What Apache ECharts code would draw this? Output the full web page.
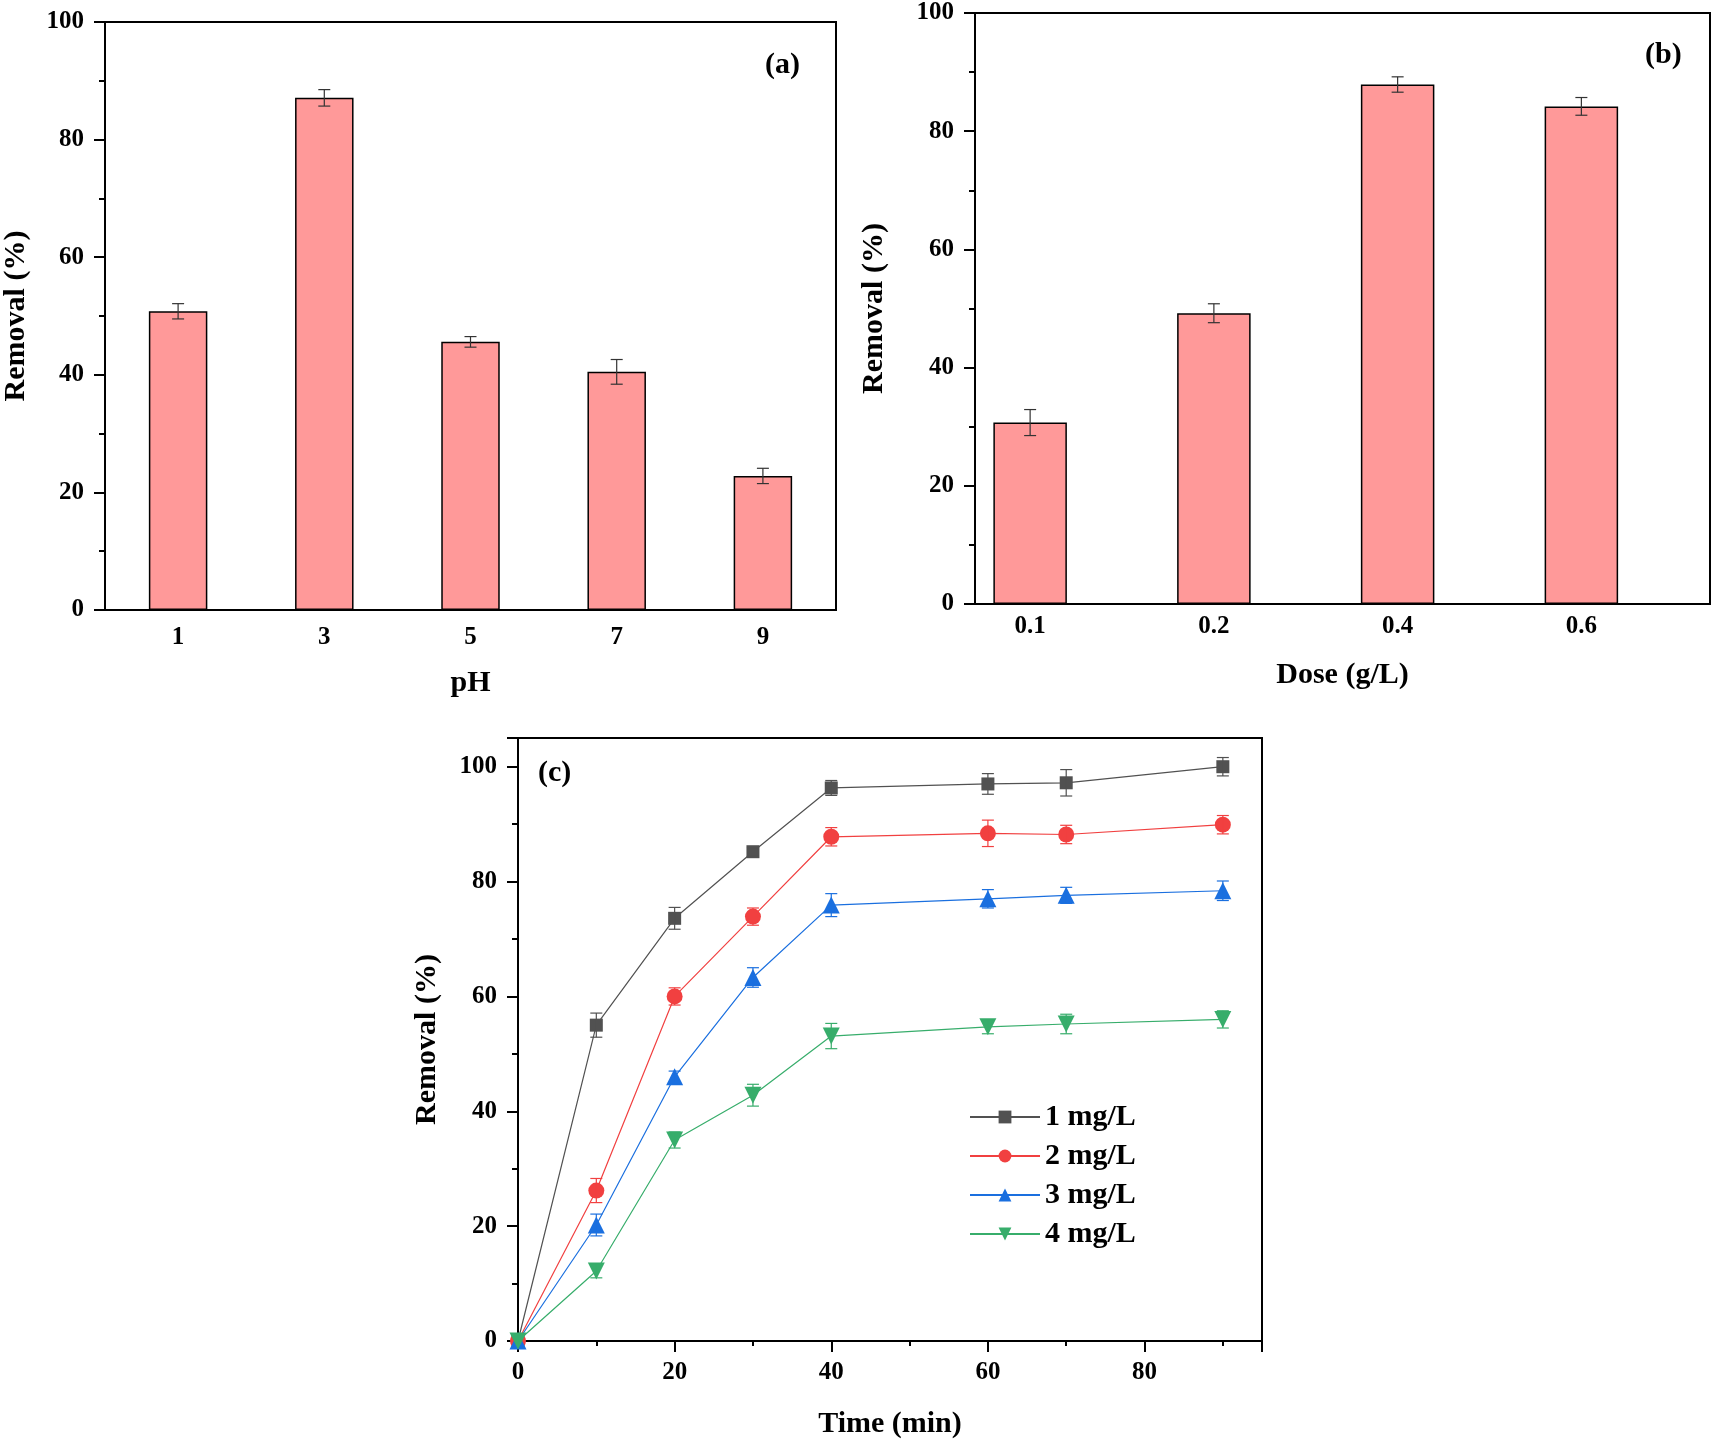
<!DOCTYPE html>
<html>
<head>
<meta charset="utf-8">
<script src="https://cdn.jsdelivr.net/npm/echarts@6/dist/echarts.min.js"></script>
<style>html,body{margin:0;padding:0;background:#fff}#c{width:1714px;height:1444px}</style>
</head>
<body>
<div id="c"></div>
<script>
// ---- data ----
const phCats = ['1', '3', '5', '7', '9'];
const phRemoval = [50.8, 87.1, 45.6, 40.5, 22.8];
const phErr = [1.3, 1.4, 0.9, 2.1, 1.3];

const doseCats = ['0.1', '0.2', '0.4', '0.6'];
const doseRemoval = [30.7, 49.2, 87.9, 84.2];
const doseErr = [2.2, 1.6, 1.3, 1.5];

const timeMin = [0, 10, 20, 30, 40, 60, 70, 90];
const seriesNames = ['1 mg/L', '2 mg/L', '3 mg/L', '4 mg/L'];
const r1 = [0, 55.0, 73.6, 85.2, 96.3, 97.0, 97.2, 100.0];
const e1 = [0, 2.1, 1.9, 0.7, 1.3, 1.8, 2.3, 1.6];
const r2 = [0, 26.2, 60.0, 73.9, 87.8, 88.4, 88.2, 89.9];
const e2 = [0, 2.1, 1.5, 1.5, 1.6, 2.3, 1.6, 1.6];
const r3 = [0, 20.2, 46.0, 63.3, 75.9, 77.0, 77.6, 78.4];
const e3 = [0, 1.9, 1.0, 1.7, 2.0, 1.6, 1.4, 1.7];
const r4 = [0, 12.2, 35.0, 42.8, 53.1, 54.7, 55.2, 56.0];
const e4 = [0, 1.2, 1.4, 1.9, 2.2, 1.2, 1.7, 1.5];

// ---- styles ----
const FONT = "'Liberation Serif','Times New Roman',serif";
const lineColors = ['#515151', '#F14040', '#1A6FDF', '#37AD6B'];
const symbols = ['rect', 'circle', 'triangle', 'triangle'];
const symRot = [0, 0, 0, 180];
const symSizes = [13, 16, 17, 17];
const barColor = '#FF9999';

function errRender(color, cap) {
  return function (params, api) {
    const x = api.value(0), y = api.value(1), e = api.value(2);
    if (!e) return null;
    const t = api.coord([x, y + e]);
    const b = api.coord([x, y - e]);
    const st = { stroke: color, lineWidth: 1.2 };
    return {
      type: 'group',
      children: [
        { type: 'line', shape: { x1: t[0], y1: t[1], x2: b[0], y2: b[1] }, style: st },
        { type: 'line', shape: { x1: t[0] - cap, y1: t[1], x2: t[0] + cap, y2: t[1] }, style: st },
        { type: 'line', shape: { x1: b[0] - cap, y1: b[1], x2: b[0] + cap, y2: b[1] }, style: st }
      ]
    };
  };
}

const tickLabel = { fontFamily: FONT, fontWeight: 'bold', fontSize: 25, color: '#000' };
const nameText = { fontFamily: FONT, fontWeight: 'bold', fontSize: 30, color: '#000' };
const axLine = { show: true, lineStyle: { color: '#000', width: 2 } };

function yAxisCfg(gridIndex, max, gap) {
  return {
    type: 'value', gridIndex: gridIndex, min: 0, max: max, interval: 20,
    name: 'Removal (%)', nameLocation: 'middle', nameGap: gap, nameTextStyle: nameText,
    axisLine: axLine,
    axisTick: { show: true, length: 11, lineStyle: { color: '#000', width: 2 } },
    minorTick: { show: true, splitNumber: 2, length: 6, lineStyle: { color: '#000', width: 2 } },
    axisLabel: Object.assign({ margin: 21, showMaxLabel: max === 100 }, tickLabel),
    splitLine: { show: false }
  };
}

const option = {
  backgroundColor: '#fff',
  animation: false,
  title: [
    { text: '(a)', left: 760, top: 45, textStyle: nameText },
    { text: '(b)', left: 1640, top: 35, textStyle: nameText },
    { text: '(c)', left: 533, top: 753, textStyle: nameText }
  ],
  grid: [
    { left: 104, top: 22, width: 732, height: 588, show: true, borderColor: '#000', borderWidth: 2, backgroundColor: 'transparent' },
    { left: 975, top: 13, width: 735, height: 591, show: true, borderColor: '#000', borderWidth: 2, backgroundColor: 'transparent' },
    { left: 518, top: 738, width: 744, height: 603, show: true, borderColor: '#000', borderWidth: 2, backgroundColor: 'transparent' }
  ],
  legend: {
    orient: 'vertical', left: 964, top: 1097, itemWidth: 70, itemHeight: 16, itemGap: 9,
    data: seriesNames,
    textStyle: nameText
  },
  xAxis: [
    {
      type: 'category', gridIndex: 0, data: phCats,
      name: 'pH', nameLocation: 'middle', nameGap: 58, nameTextStyle: nameText,
      axisLine: axLine, axisTick: { show: false },
      axisLabel: Object.assign({ margin: 15 }, tickLabel)
    },
    {
      type: 'value', gridIndex: 1, min: 0.7, max: 4.7,
      name: 'Dose (g/L)', nameLocation: 'middle', nameGap: 56, nameTextStyle: nameText,
      axisLine: axLine, axisTick: { show: false }, splitLine: { show: false },
      axisLabel: Object.assign({
        margin: 10, customValues: [1, 2, 3, 4],
        formatter: function (v) { return doseCats[Math.round(v) - 1] || ''; }
      }, tickLabel)
    },
    {
      type: 'value', gridIndex: 2, min: 0, max: 95, interval: 20,
      name: 'Time (min)', nameLocation: 'middle', nameGap: 68, nameTextStyle: nameText,
      axisLine: axLine,
      axisTick: { show: true, length: 11, lineStyle: { color: '#000', width: 2 } },
      minorTick: { show: true, splitNumber: 2, length: 5, lineStyle: { color: '#000', width: 2 } },
      axisLabel: Object.assign({ margin: 19, showMaxLabel: false }, tickLabel),
      splitLine: { show: false }
    }
  ],
  yAxis: [
    yAxisCfg(0, 100, 74),
    yAxisCfg(1, 100, 86),
    yAxisCfg(2, 105, 76)
  ],
  series: []
};

// bars (a)
option.series.push({
  type: 'bar', xAxisIndex: 0, yAxisIndex: 0, barWidth: '40%',
  data: phRemoval,
  itemStyle: { color: barColor, borderColor: '#000', borderWidth: 1.5 }
});
option.series.push({
  type: 'custom', xAxisIndex: 0, yAxisIndex: 0, z: 5,
  renderItem: errRender('#333', 6),
  data: phRemoval.map(function (v, i) { return [i, v, phErr[i]]; })
});
// bars (b)
option.series.push({
  type: 'bar', xAxisIndex: 1, yAxisIndex: 1, barWidth: '40%',
  data: doseRemoval.map(function (v, i) { return [i + 1, v]; }),
  itemStyle: { color: barColor, borderColor: '#000', borderWidth: 1.5 }
});
option.series.push({
  type: 'custom', xAxisIndex: 1, yAxisIndex: 1, z: 5,
  renderItem: errRender('#333', 6),
  data: doseRemoval.map(function (v, i) { return [i + 1, v, doseErr[i]]; })
});
// lines (c)
const rs = [r1, r2, r3, r4];
const es = [e1, e2, e3, e4];
rs.forEach(function (r, k) {
  option.series.push({
    type: 'line', name: seriesNames[k], xAxisIndex: 2, yAxisIndex: 2,
    data: timeMin.map(function (t, i) { return [t, r[i]]; }),
    symbol: symbols[k], symbolRotate: symRot[k], symbolSize: symSizes[k],
    showAllSymbol: true,
    lineStyle: { color: lineColors[k], width: 1.2 },
    itemStyle: { color: lineColors[k], opacity: 1 },
    z: 3
  });
  option.series.push({
    type: 'custom', xAxisIndex: 2, yAxisIndex: 2, z: 4,
    renderItem: errRender(lineColors[k], 6),
    data: timeMin.map(function (t, i) { return [t, r[i], es[k][i]]; })
  });
});

const chart = echarts.init(document.getElementById('c'), null, { renderer: 'canvas' });
chart.setOption(option);
</script>
</body>
</html>
